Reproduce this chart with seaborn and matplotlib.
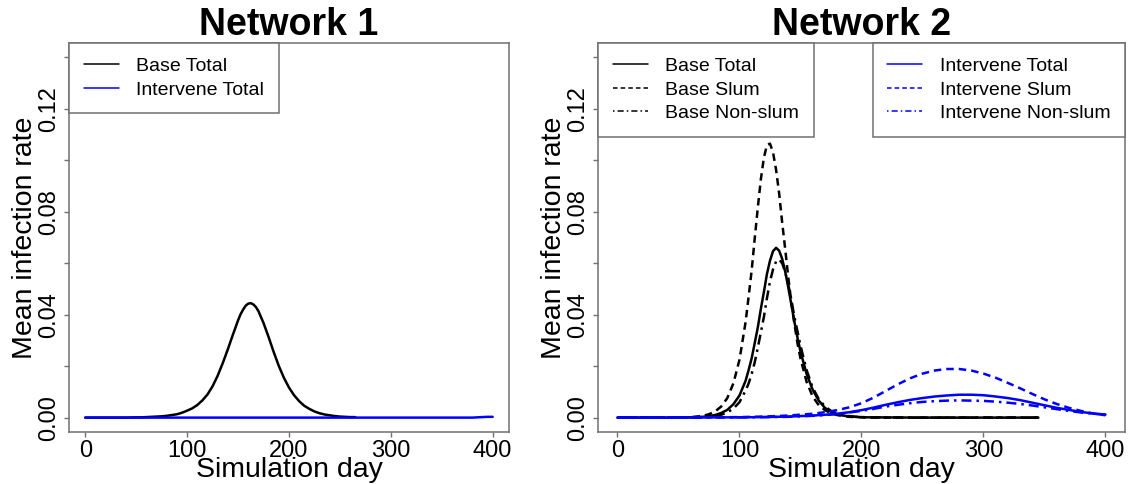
import numpy as np
import pandas as pd
import seaborn as sns
import matplotlib.pyplot as plt
from matplotlib.lines import Line2D

# Network 1 values
n1_base_days = [0, 20, 40, 50, 55, 60, 65, 70, 75, 80, 85, 90, 95, 100, 105, 110, 115, 120, 125, 130,
                135, 140, 145, 150, 152.5, 155, 157.5, 160, 162.5, 165, 167.5, 170, 175, 180, 185,
                190, 195, 200, 205, 210, 215, 220, 225, 230, 235, 240, 245, 250, 255, 260, 265]
n1_base_total = [0, 0, 0, 0.0001, 0.0001, 0.0002, 0.0003, 0.0004, 0.0005, 0.0007, 0.0010, 0.0013,
                 0.0019, 0.0027, 0.0036, 0.0049, 0.0067, 0.0090, 0.0122, 0.0163, 0.0212, 0.0266,
                 0.0323, 0.0378, 0.0402, 0.0420, 0.0435, 0.0443, 0.0445, 0.0440, 0.0430, 0.0414,
                 0.0368, 0.0313, 0.0255, 0.0201, 0.0155, 0.0117, 0.0087, 0.0064, 0.0046, 0.0034,
                 0.0024, 0.0017, 0.0012, 0.0009, 0.0006, 0.0004, 0.0003, 0.0002, 0.0002]
n1_int_days = [0, 100, 200, 300, 380, 385, 390, 395, 400]
n1_int_total = [0, 0, 0, 0, 0, 0.0001, 0.0002, 0.0003, 0.0003]

# Network 2 values
n2_base_days = [0, 20, 40, 50, 55, 60, 65, 70, 75, 80, 85, 90, 95, 100, 105, 107.5, 110, 112.5, 115,
                117.5, 120, 122.5, 125, 127.5, 130, 132.5, 135, 137.5, 140, 142.5, 145, 147.5, 150,
                155, 160, 165, 170, 175, 180, 185, 190, 195, 200, 205, 210, 250, 300, 345]
n2_base_total = [0, 0, 0, 0, 0.0001, 0.0001, 0.0002, 0.0003, 0.0006, 0.0010, 0.0018, 0.0030, 0.0052,
                 0.0086, 0.0143, 0.0185, 0.0231, 0.0290, 0.0350, 0.0422, 0.0488, 0.0558, 0.0610,
                 0.0647, 0.0660, 0.0649, 0.0617, 0.0567, 0.0506, 0.0440, 0.0373, 0.0312, 0.0257,
                 0.0170, 0.0108, 0.0066, 0.0038, 0.0022, 0.0013, 0.0008, 0.0005, 0.0003, 0.0002,
                 0.0001, 0.0001, 0, 0, 0]
n2_base_slum = [0, 0, 0, 0.0001, 0.0001, 0.0002, 0.0004, 0.0007, 0.0013, 0.0024, 0.0043, 0.0076, 0.0133,
                0.0225, 0.0371, 0.0470, 0.0573, 0.0697, 0.0815, 0.0926, 0.1010, 0.1060, 0.1065,
                0.1031, 0.0963, 0.0872, 0.0758, 0.0654, 0.0545, 0.0449, 0.0365, 0.0290, 0.0230,
                0.0139, 0.0082, 0.0048, 0.0029, 0.0017, 0.0010, 0.0006, 0.0003, 0.0002, 0.0001,
                0.0001, 0, 0, 0, 0]
n2_base_nonslum = [0, 0, 0, 0, 0.0001, 0.0001, 0.0001, 0.0002, 0.0004, 0.0006, 0.0011, 0.0020, 0.0035,
                   0.0060, 0.0105, 0.0133, 0.0170, 0.0215, 0.0271, 0.0331, 0.0391, 0.0464, 0.0529,
                   0.0576, 0.0607, 0.0615, 0.0600, 0.0566, 0.0517, 0.0459, 0.0392, 0.0336, 0.0280,
                   0.0185, 0.0116, 0.0072, 0.0044, 0.0026, 0.0016, 0.0009, 0.0006, 0.0003, 0.0002,
                   0.0001, 0.0001, 0, 0, 0]

n2_int_days = [0, 25, 50, 75, 100, 120, 140, 160, 170, 180, 190, 200, 210, 220, 230, 240, 250, 260,
               270, 280, 290, 300, 310, 320, 330, 340, 350, 360, 370, 380, 390, 400]
n2_int_total = [0, 0, 0, 0.0001, 0.0001, 0.0002, 0.0004, 0.0008, 0.0011, 0.0015, 0.0021, 0.0029,
                0.0039, 0.0050, 0.0060, 0.0069, 0.0076, 0.0082, 0.0086, 0.0089, 0.0089, 0.0087,
                0.0082, 0.0076, 0.0068, 0.0058, 0.0048, 0.0038, 0.0030, 0.0022, 0.0016, 0.0012]
n2_int_slum = [0, 0, 0.0001, 0.0001, 0.0002, 0.0004, 0.0008, 0.0015, 0.0021, 0.0029, 0.0040, 0.0056,
               0.0078, 0.0104, 0.0130, 0.0153, 0.0171, 0.0183, 0.0189, 0.0189, 0.0183, 0.0171,
               0.0155, 0.0135, 0.0114, 0.0092, 0.0071, 0.0053, 0.0038, 0.0026, 0.0016, 0.0009]
n2_int_nonslum = [0, 0, 0, 0.0001, 0.0001, 0.0002, 0.0003, 0.0007, 0.0010, 0.0014, 0.0020, 0.0026,
                  0.0034, 0.0043, 0.0050, 0.0056, 0.0061, 0.0064, 0.0066, 0.0067, 0.0066, 0.0065,
                  0.0062, 0.0058, 0.0053, 0.0047, 0.0040, 0.0033, 0.0026, 0.0020, 0.0015, 0.0011]

titles = ['Network 1', 'Network 2']
ytick_vals = [0, 0.02, 0.04, 0.06, 0.08, 0.10, 0.12, 0.14]
ytick_text = ['0.00', '', '0.04', '', '0.08', '', '0.12', '']
xtick_vals = [0, 100, 200, 300, 400]

sns.set_theme(style='ticks')
plt.rcParams['font.family'] = ['Liberation Sans', 'DejaVu Sans']
plt.rcParams['text.color'] = 'black'
plt.rcParams['axes.labelcolor'] = 'black'
plt.rcParams['xtick.labelcolor'] = 'black'
plt.rcParams['ytick.labelcolor'] = 'black'

DASH = (3, 2)
DASHDOT = (1, 2, 4, 2)
GRAY = '#707070'
LW = 1.8

fig = plt.figure(figsize=(11.31, 4.84), dpi=100)
ax1 = fig.add_axes([0.0610, 0.1074, 0.3890, 0.8037])
ax2 = fig.add_axes([0.5287, 0.1074, 0.4660, 0.8037])


def line(ax, x, y, color, dashes=None):
    kw = {} if dashes is None else {'dashes': dashes}
    sns.lineplot(x=x, y=y, ax=ax, color=color, linewidth=LW, **kw)


# Network 1
line(ax1, n1_base_days, n1_base_total, 'black')
line(ax1, n1_int_days, n1_int_total, 'blue')

# Network 2
line(ax2, n2_base_days, n2_base_total, 'black')
line(ax2, n2_base_days, n2_base_slum, 'black', DASH)
line(ax2, n2_base_days, n2_base_nonslum, 'black', DASHDOT)
line(ax2, n2_int_days, n2_int_total, 'blue')
line(ax2, n2_int_days, n2_int_slum, 'blue', DASH)
line(ax2, n2_int_days, n2_int_nonslum, 'blue', DASHDOT)

for ax, title in zip([ax1, ax2], titles):
    ax.set_xlim(-16, 416)
    ax.set_ylim(-0.0056, 0.1456)
    ax.set_xticks(xtick_vals)
    ax.set_xticklabels([str(v) for v in xtick_vals], fontsize=17)
    ax.set_yticks(ytick_vals)
    ax.set_yticklabels(ytick_text, fontsize=17, rotation=90, va='center')
    ax.tick_params(length=3.5, width=1, color=GRAY, pad=2)
    ax.tick_params(axis='y', pad=3)
    for s in ax.spines.values():
        s.set_color(GRAY)
        s.set_linewidth(1.1)
    ax.set_title(title, fontsize=27, fontweight='bold', pad=3)
    ax.set_xlabel('Simulation day', fontsize=20.5, labelpad=-3)
    ax.set_ylabel('Mean infection rate', fontsize=20.5, labelpad=0)


def handle(color, dashes=None):
    h = Line2D([], [], color=color, linewidth=1.1)
    if dashes is not None:
        h.set_dashes(dashes)
    return h


leg_kw = dict(borderaxespad=0, fancybox=False, edgecolor=GRAY, framealpha=1, fontsize=14,
              handlelength=1.8, handletextpad=0.9, labelspacing=0.3, borderpad=0.75)

lg = ax1.legend([handle('black'), handle('blue')], ['Base Total', 'Intervene Total'],
                loc='upper left', bbox_to_anchor=(0, 1), **leg_kw)
lg.get_frame().set_linewidth(1.1)

lg1 = ax2.legend([handle('black'), handle('black', DASH), handle('black', DASHDOT)],
                 ['Base Total', 'Base Slum', 'Base Non-slum'],
                 loc='upper left', bbox_to_anchor=(0, 1), **leg_kw)
lg1.get_frame().set_linewidth(1.1)
ax2.add_artist(lg1)
lg2 = ax2.legend([handle('blue'), handle('blue', DASH), handle('blue', DASHDOT)],
                 ['Intervene Total', 'Intervene Slum', 'Intervene Non-slum'],
                 loc='upper right', bbox_to_anchor=(1, 1), **leg_kw)
lg2.get_frame().set_linewidth(1.1)

fig.savefig('out.png', dpi=100)
